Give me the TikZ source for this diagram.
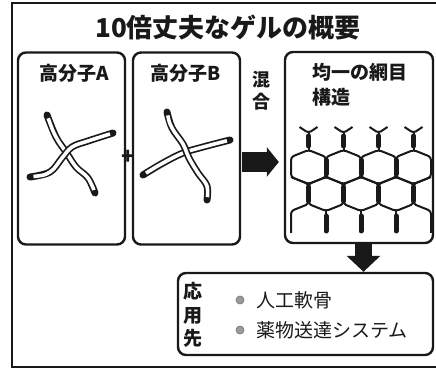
\documentclass[tikz,border=0pt]{standalone}
\usepackage{fontspec}
\setmainfont{Noto Sans CJK JP}
\usetikzlibrary{arrows.meta}
\definecolor{ink}{gray}{0.1}
\definecolor{dotgray}{gray}{0.6}
% one polymer chain: dark tube with a light core and dark end caps
\newcommand\gelstrand[1]{%
  \draw[ink, line width=7pt, line cap=round] plot[smooth, tension=0.6] coordinates {#1};
  \draw[white, line width=3.6pt, shorten <=3.5pt, shorten >=3.5pt] plot[smooth, tension=0.6] coordinates {#1};
}
\begin{document}
\begin{tikzpicture}[x=1pt, y=-1pt,
  panel/.style={draw=ink, line width=2.4pt, rounded corners=8pt, fill=white, inner sep=0pt},
  title/.style={font=\bfseries\fontsize{26}{26}\selectfont, text=ink},
  lbl/.style={font=\bfseries\fontsize{19}{19}\selectfont, text=ink, inner sep=0pt},
  vlbl/.style={font=\bfseries\fontsize{18}{22}\selectfont, text=ink, align=center, inner sep=0pt},
  item/.style={font=\fontsize{19}{19}\selectfont, text=ink, inner sep=0pt},
  bulletdot/.style={circle, draw=gray, fill=dotgray, line width=0.8pt, minimum size=8pt, inner sep=0pt},
  bigarrow/.style={draw=ink, line width=20pt, -{Triangle[length=12pt, width=29pt]}},
  downarrow/.style={draw=ink, line width=17pt, -{Triangle[length=16pt, width=33pt]}},
  net/.style={ink, line width=2pt, rounded corners=3pt, line join=round},
  link/.style={ink, line width=5pt, line cap=round},
]
\useasboundingbox (0,0) rectangle (436,371);
\clip (0,0) rectangle (436,371);
\fill[white] (0,0) rectangle (436,371);

% outer frame
\draw[ink, line width=2pt] (12,3) rectangle (448,367);

% title
\node[title] (T) at (228,28) {10倍丈夫なゲルの概要};

% panels
\node[panel, minimum width=107pt, minimum height=192pt] (A) at (71.5,148.5) {};
\node[panel, minimum width=107pt, minimum height=192pt] (B) at (186.5,148.5) {};
\node[panel, minimum width=148pt, minimum height=191pt] (N) at (359,147.5) {};
\node[panel, minimum width=255pt, minimum height=82pt] (U) at (305.5,314) {};

% panel labels
\node[lbl] (tA) at (74,73) {高分子A};
\node[lbl] (tB) at (186,73) {高分子B};
\node[lbl, anchor=west] (tN1) at (312,72) {均一の網目};
\node[lbl, anchor=west] (tN2) at (312,97) {構造};

% polymer A
\gelstrand{(47,115) (56,137) (66,152) (76,167) (88,178) (95,193)}
\gelstrand{(30,177) (50,172) (62,158) (72,147) (88,141) (113,133)}

% polymer B
\gelstrand{(143,175) (163,163) (183,153) (203,147) (230,140)}
\gelstrand{(167,112) (172,128) (183,144) (189,158) (198,173) (207,186) (207,200)}

% plus sign between the two polymers
\node[font=\bfseries\fontsize{22}{22}\selectfont, text=ink, inner sep=0pt] (plus) at (128,157) {+};

% mixing step
\node[vlbl] (mix) at (261,91) {混\\合};
\coordinate (mid) at (0,162);
\draw[bigarrow, shorten <=1pt, shorten >=5pt] (B.east |- mid) -- (N.west |- mid);

% uniform network: two rows of hexagons
\foreach \cx in {308.5,343.5,378.5,413.5} {
  % upper row hexagon
  \draw[net] (\cx,150) -- (\cx+17.5,157) -- (\cx+17.5,177) -- (\cx,184)
             -- (\cx-17.5,177) -- (\cx-17.5,157) -- cycle;
  % dangling ends on top
  \draw[net] (\cx,150) -- (\cx,133);
  \draw[net] (\cx-9,127) -- (\cx,133) -- (\cx+9,127);
  \draw[link] (\cx,136) -- (\cx,146);
  % lower row cross-links
  \draw[link] (\cx,187) -- (\cx,201);
}
\foreach \cx in {326,361,396} {
  % lower row hexagon
  \draw[net] (\cx,177) -- (\cx+17.5,184) -- (\cx+17.5,204) -- (\cx,211)
             -- (\cx-17.5,204) -- (\cx-17.5,184) -- cycle;
  % dangling ends below
  \draw[net] (\cx,211) -- (\cx,233);
  \draw[link] (\cx,216) -- (\cx,231);
  % upper row cross-links
  \draw[link] (\cx,160) -- (\cx,174);
}
\draw[net] (291,177) -- (308.5,184) -- (308.5,204) -- (291,211) -- (291,233);
\draw[net] (431,177) -- (413.5,184) -- (413.5,204) -- (431,211) -- (431,233);

% application step
\coordinate (dx) at (363.5,0);
\draw[downarrow] (N.south -| dx) -- (U.north -| dx);

\node[vlbl, font=\bfseries\fontsize{19}{23.5}\selectfont] (use) at (193,315) {応\\用\\先};
\node[bulletdot] (b1) at (240,300) {};
\node[bulletdot] (b2) at (240,330) {};
\node[item, anchor=west] (i1) at (256,300) {人工軟骨};
\node[item, anchor=west] (i2) at (256,330) {薬物送達システム};
\end{tikzpicture}
\end{document}
